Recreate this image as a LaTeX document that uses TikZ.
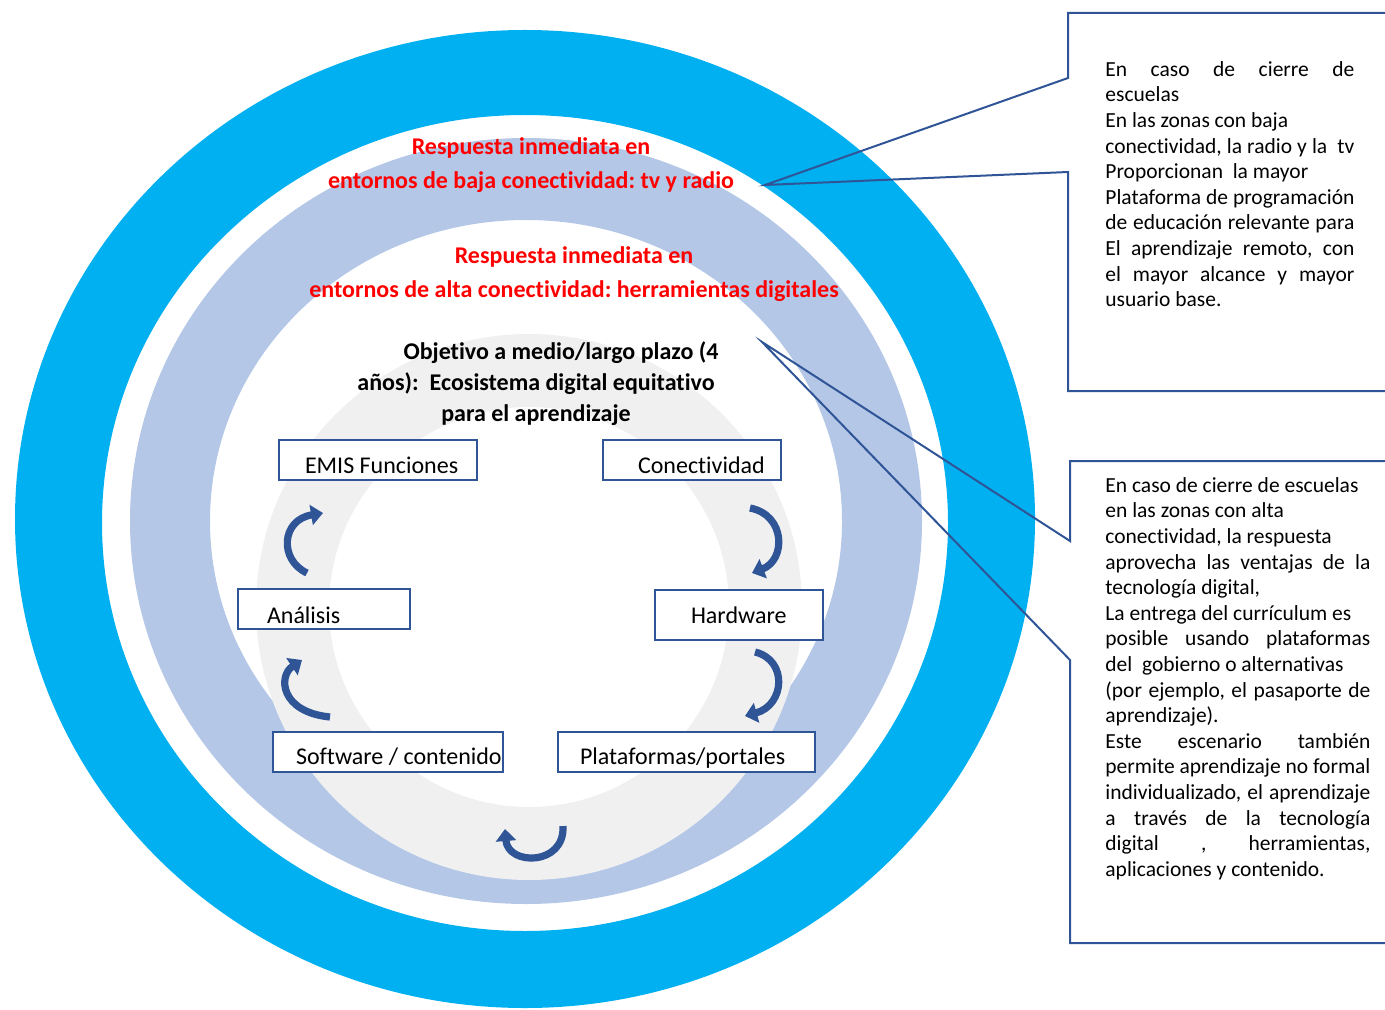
\documentclass[tikz,border=0pt]{standalone}
\usepackage{fontspec}
\setmainfont{Carlito}[Ligatures=CommonOff]
\frenchspacing
\usetikzlibrary{arrows.meta}

\definecolor{ringblue}{RGB}{0,176,240}
\definecolor{ringlight}{RGB}{180,199,231}
\definecolor{ringgrey}{RGB}{240,240,240}
\definecolor{boxblue}{RGB}{47,85,151}

\newcommand{\boxlabel}[2]{\makebox[#1][l]{#2}}
\newcommand{\spreadline}[2]{\makebox[#1][s]{#2}}

\begin{document}
\begin{tikzpicture}[x=0.5pt, y=-0.5pt,
    box/.style={draw=boxblue, line width=1pt, fill=white, anchor=north west,
      inner ysep=0pt, outer sep=0pt, font=\fontsize{12}{14}\selectfont},
    redtitle/.style={text=red, align=center, font=\bfseries\fontsize{12}{17}\selectfont},
    goaltitle/.style={align=center, font=\bfseries\fontsize{12}{15.5}\selectfont},
    cycarrow/.style={boxblue, line width=3.6pt, -{Triangle[length=6pt,width=10pt]}},
    callout/.style={draw=boxblue, line width=1pt},
    callouttext/.style={anchor=north west, inner sep=0pt, align=left,
      font=\fontsize{10.75}{12.8}\selectfont}]
  \useasboundingbox (0,0) rectangle (1385,1010);

  % rings
  \fill[ringblue, even odd rule] (525,519) ellipse [x radius=510, y radius=489]
    (525,523) ellipse [x radius=423, y radius=408];
  \fill[ringlight, even odd rule] (526,521) ellipse [x radius=396, y radius=383]
    (526,521) ellipse [x radius=316, y radius=301];
  \fill[ringgrey, even odd rule] (529,607) circle [radius=273]
    (529,607) circle [radius=200];

  % titles
  \node[redtitle] (lowconn) at (531,165) {Respuesta inmediata en\\entornos de baja conectividad: tv y radio};
  \node[redtitle] (highconn) at (574,274) {Respuesta inmediata en\\entornos de alta conectividad: herramientas digitales};
  \node[goaltitle] (goal) at (536,384) {\hspace*{25pt}Objetivo a medio/largo plazo (4\\a\~nos):~ Ecosistema digital equitativo\\para el aprendizaje};

  % cycle
  \node[box, inner xsep=13pt, text height=16.5pt, text depth=3.5pt] (emis) at (279,440) {\boxlabel{73pt}{EMIS Funciones}};
  \node[box, inner xsep=17.5pt, text height=16.5pt, text depth=3.5pt] (conect) at (603,440) {\boxlabel{54pt}{Conectividad}};
  \node[box, inner xsep=14.5pt, text height=17pt, text depth=3pt] (analisis) at (238,589) {\boxlabel{57pt}{Análisis}};
  \node[box, inner xsep=18pt, text height=16.5pt, text depth=8.5pt] (hardware) at (655,590) {\boxlabel{48pt}{Hardware}};
  \node[box, inner xsep=11.5pt, text height=16pt, text depth=4pt] (software) at (273,732) {\boxlabel{92pt}{Software / contenido}};
  \node[box, inner xsep=11pt, text height=16pt, text depth=4pt] (portales) at (558,732) {\boxlabel{106.5pt}{Plataformas/portales}};

  \draw[cycarrow] (307,573) .. controls (279,560) and (281,520) .. (323,513);
  \draw[cycarrow] (330,717) .. controls (280,712) and (278,676) .. (302,660);
  \draw[cycarrow] (750,508) .. controls (786,515) and (786,560) .. (752,573);
  \draw[cycarrow] (755,652) .. controls (788,660) and (785,705) .. (745,716);
  \draw[cycarrow] (563,826) .. controls (565,866) and (508,866) .. (505,829);

  % callouts
  \coordinate (tiptv) at (765,185);
  \coordinate (tipdigital) at (762,342);
  \draw[callout] (1385,13) -- (1068,13) -- (1068,78) -- (tiptv) -- (1068,172) -- (1068,391) -- (1385,391);
  \draw[callout] (1385,461) -- (1070,461) -- (1070,541) -- (tipdigital) -- (1070,660) -- (1070,943) -- (1385,943);

  \node[callouttext] (tvtext) at (1105,61) {%
    \spreadline{124.5pt}{En caso de cierre de}\\
    escuelas\\
    En las zonas con baja\\
    \spreadline{124.5pt}{conectividad, la radio y la~ tv}\\
    Proporcionan~ la mayor\\
    \spreadline{124.5pt}{Plataforma de programación}\\
    \spreadline{124.5pt}{de educación relevante para}\\
    \spreadline{124.5pt}{El aprendizaje remoto, con}\\
    \spreadline{124.5pt}{el mayor alcance y mayor}\\
    usuario base.};
  \node[callouttext] (digitaltext) at (1105,477) {%
    En caso de cierre de escuelas\\
    en las zonas con alta\\
    conectividad, la respuesta\\
    \spreadline{132.5pt}{aprovecha las ventajas de la}\\
    tecnología digital,\\
    La entrega del currículum es\\
    \spreadline{132.5pt}{posible usando plataformas}\\
    del~ gobierno o alternativas\\
    \spreadline{132.5pt}{(por ejemplo, el pasaporte de}\\
    aprendizaje).\\
    \spreadline{132.5pt}{Este escenario también}\\
    \spreadline{132.5pt}{permite aprendizaje no formal}\\
    \spreadline{132.5pt}{individualizado, el aprendizaje}\\
    \spreadline{132.5pt}{a través de la tecnología}\\
    \spreadline{132.5pt}{digital , herramientas,}\\
    aplicaciones y contenido.};
\end{tikzpicture}
\end{document}
